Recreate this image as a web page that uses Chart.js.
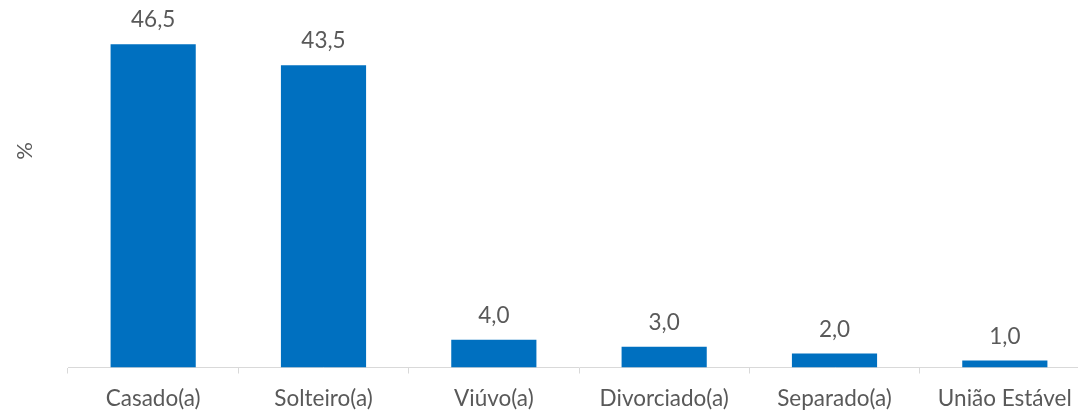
<!DOCTYPE html>
<html>
<head>
<meta charset="utf-8">
<script src="https://cdn.jsdelivr.net/npm/chart.js@4"></script>
<style>
  html, body { margin: 0; padding: 0; background: #fff; overflow: hidden; }
  #wrap { width: 1092px; height: 414px; position: relative; }
</style>
</head>
<body>
<div id="wrap"><canvas id="chart"></canvas></div>
<script>
const categories = ['Casado(a)', 'Solteiro(a)', 'Viúvo(a)', 'Divorciado(a)', 'Separado(a)', 'União Estável'];
const percentages = [46.5, 43.5, 4.0, 3.0, 2.0, 1.0];
const yAxisLabel = '%';

const FONT = 'Lato, "Open Sans", sans-serif';
const TEXT_COLOR = '#595959';

// value labels above bars, with decimal comma
const barLabels = {
  id: 'barLabels',
  afterDatasetsDraw(chart) {
    const ctx = chart.ctx;
    const meta = chart.getDatasetMeta(0);
    ctx.save();
    ctx.font = '22.5px ' + FONT;
    ctx.fillStyle = TEXT_COLOR;
    ctx.textAlign = 'center';
    ctx.textBaseline = 'alphabetic';
    meta.data.forEach((bar, i) => {
      const txt = percentages[i].toFixed(1).replace('.', ',');
      ctx.fillText(txt, bar.x, bar.y - 17);
    });
    ctx.restore();
  }
};

// rotated "%" axis title
const axisTitle = {
  id: 'axisTitle',
  afterDraw(chart) {
    const ctx = chart.ctx;
    ctx.save();
    ctx.translate(25, 151);
    ctx.rotate(-Math.PI / 2);
    ctx.font = '22px ' + FONT;
    ctx.fillStyle = TEXT_COLOR;
    ctx.textAlign = 'center';
    ctx.textBaseline = 'middle';
    ctx.fillText(yAxisLabel, 0, 0);
    ctx.restore();
  }
};

new Chart(document.getElementById('chart'), {
  type: 'bar',
  data: {
    labels: categories,
    datasets: [{
      data: percentages,
      backgroundColor: '#0070C0',
      borderWidth: 0,
      categoryPercentage: 1.0,
      barPercentage: 0.5
    }]
  },
  options: {
    responsive: true,
    maintainAspectRatio: false,
    animation: false,
    layout: { padding: { left: 68, right: 2, top: 20, bottom: 0 } },
    plugins: {
      legend: { display: false },
      tooltip: { enabled: false }
    },
    scales: {
      x: {
        afterFit(axis) { axis.height = 46.5; },
        grid: {
          offset: true,
          drawOnChartArea: false,
          drawTicks: true,
          tickLength: 6,
          color: '#d9d9d9'
        },
        border: { display: true, color: '#d9d9d9', width: 1 },
        ticks: {
          color: TEXT_COLOR,
          font: { family: FONT, size: 22.5 },
          padding: 12,
          maxRotation: 0,
          autoSkip: false
        }
      },
      y: {
        display: false,
        min: 0,
        max: 50
      }
    }
  },
  plugins: [barLabels, axisTitle]
});
</script>
</body>
</html>
